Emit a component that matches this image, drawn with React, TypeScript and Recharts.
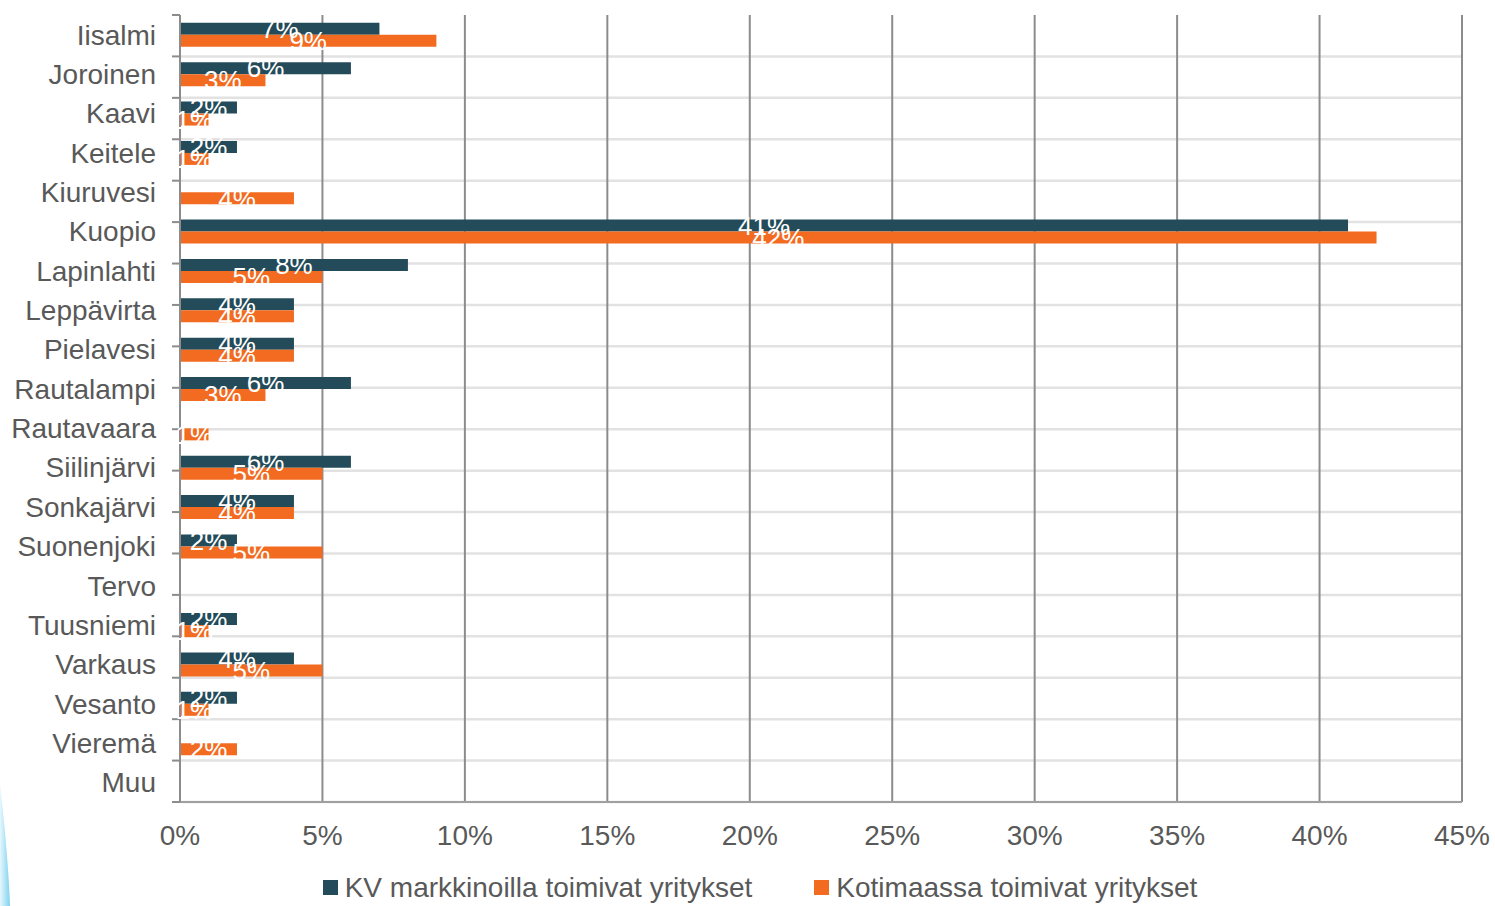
import React from "react";
import {
  Bar,
  BarChart,
  CartesianGrid,
  LabelList,
  Legend,
  ReferenceLine,
  XAxis,
  YAxis,
} from "recharts";

const KUNNAT = [
  "Iisalmi",
  "Joroinen",
  "Kaavi",
  "Keitele",
  "Kiuruvesi",
  "Kuopio",
  "Lapinlahti",
  "Leppävirta",
  "Pielavesi",
  "Rautalampi",
  "Rautavaara",
  "Siilinjärvi",
  "Sonkajärvi",
  "Suonenjoki",
  "Tervo",
  "Tuusniemi",
  "Varkaus",
  "Vesanto",
  "Vieremä",
  "Muu",
];

// % of firms, null = no bar
const KV = [7, 6, 2, 2, null, 41, 8, 4, 4, 6, null, 6, 4, 2, null, 2, 4, 2, null, null];
const KOTIMAA = [9, 3, 1, 1, 4, 42, 5, 4, 4, 3, 1, 5, 4, 5, null, 1, 5, 1, 2, null];

const X_TICKS = [0, 5, 10, 15, 20, 25, 30, 35, 40, 45];
const ROW_EDGES = KUNNAT.map((_, i) => i).concat(KUNNAT.length);

const DARK = "#234b59";
const ORANGE = "#f26b21";
const GREY_TEXT = "#595959";

const data = KUNNAT.map((name, i) => ({ name, kv: KV[i], koti: KOTIMAA[i] }));

const pct = (v: any) => (v == null ? "" : `${v}%`);

function LegendBox() {
  const items = [
    { label: "KV markkinoilla toimivat yritykset", color: DARK },
    { label: "Kotimaassa toimivat yritykset", color: ORANGE },
  ];
  return (
    <div
      style={{
        display: "flex",
        justifyContent: "center",
        gap: 62,
        paddingLeft: 58,
        paddingTop: 3,
        boxSizing: "border-box",
        fontSize: 28,
        color: GREY_TEXT,
        height: 40,
        alignItems: "center",
      }}
    >
      {items.map((it) => (
        <span key={it.label} style={{ display: "flex", alignItems: "center" }}>
          <span
            style={{
              width: 15,
              height: 15,
              background: it.color,
              marginRight: 7,
              display: "inline-block",
            }}
          />
          {it.label}
        </span>
      ))}
    </div>
  );
}

export default function App() {
  return (
    <div
      style={{
        position: "absolute",
        left: 0,
        top: 0,
        width: 1495,
        height: 906,
        fontFamily: "'Liberation Sans', Arial, sans-serif",
        background: "#fff",
        overflow: "hidden",
      }}
    >
      <svg
        width={30}
        height={140}
        style={{ position: "absolute", left: 0, top: 766 }}
      >
        <defs>
          <linearGradient id="swoosh" x1="0" y1="0" x2="1" y2="0">
            <stop offset="0" stopColor="#e6f7fd" />
            <stop offset="1" stopColor="#7fd2f0" />
          </linearGradient>
        </defs>
        <path d="M0 20 C 5 60, 9 110, 10 140 L 0 140 Z" fill="url(#swoosh)" />
      </svg>
      <BarChart
        width={1495}
        height={906}
        data={data}
        layout="vertical"
        margin={{ top: 15, right: 33, left: 0, bottom: 0 }}
        barCategoryGap="20%"
        barGap={0}
      >
        <CartesianGrid
          yAxisId="rows"
          vertical={false}
          horizontalValues={ROW_EDGES}
          stroke="#e2e2e2"
          strokeWidth={2.5}
        />
        <CartesianGrid
          horizontal={false}
          verticalValues={X_TICKS}
          stroke="#8c8c8c"
          strokeWidth={2}
        />
        <ReferenceLine yAxisId="rows" y={0} stroke="#a0a0a0" strokeWidth={2} />
        {ROW_EDGES.map((r) => (
          <ReferenceLine
            key={r}
            yAxisId="rows"
            segment={[
              { x: -0.28, y: r },
              { x: 0, y: r },
            ]}
            ifOverflow="visible"
            stroke="#8c8c8c"
            strokeWidth={2}
          />
        ))}
        <XAxis
          type="number"
          domain={[0, 45]}
          ticks={X_TICKS}
          tickFormatter={(v) => `${v}%`}
          axisLine={false}
          tickLine={false}
          tick={{ fill: GREY_TEXT, fontSize: 28 }}
          tickMargin={17}
          height={64}
        />
        <YAxis
          type="category"
          dataKey="name"
          width={180}
          axisLine={{ stroke: "#8c8c8c", strokeWidth: 2 }}
          tickLine={false}
          tickMargin={18}
          tick={{ fill: GREY_TEXT, fontSize: 28 }}
          interval={0}
        />
        <YAxis
          yAxisId="rows"
          type="number"
          domain={[0, KUNNAT.length]}
          ticks={ROW_EDGES}
          reversed
          hide
        />
        <Legend verticalAlign="bottom" content={() => <LegendBox />} />
        <Bar dataKey="kv" fill={DARK} isAnimationActive={false}>
          <LabelList
            dataKey="kv"
            position="center"
            formatter={pct}
            fill="#fff"
            fontSize={26}
          />
        </Bar>
        <Bar dataKey="koti" fill={ORANGE} isAnimationActive={false}>
          <LabelList
            dataKey="koti"
            position="center"
            formatter={pct}
            fill="#fff"
            fontSize={26}
          />
        </Bar>
      </BarChart>
    </div>
  );
}
